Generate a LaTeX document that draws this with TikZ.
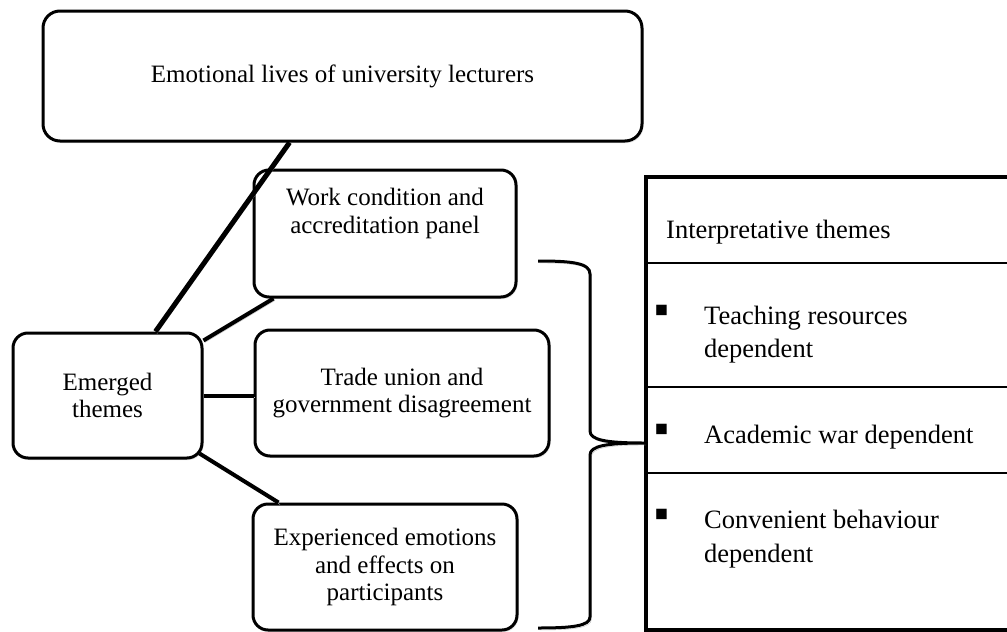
\documentclass[tikz,border=0pt]{standalone}
\usepackage{fontspec}
\setmainfont{Liberation Serif}
\usetikzlibrary{positioning,calc,shadows}
\tikzset{
    themeBox/.style={
        rectangle,
        draw,
        fill=white,
        line width=3pt,
        rounded corners=15pt,
        align=center,
        inner sep=0pt,
        font=\fontsize{25}{27.5}\selectfont,
        drop shadow={shadow xshift=1.5pt, shadow yshift=-2pt, opacity=0.2}
    },
    boxText/.style={font=\fontsize{25}{27.5}\selectfont, align=center, inner sep=0pt},
    % Table parts
    tabFrame/.style={rectangle, draw, line width=3.5pt, inner sep=0pt},
    tabText/.style={font=\fontsize{26.5}{33.5}\selectfont, align=left, inner sep=0pt, anchor=west},
    rowLine/.style={line width=2pt},
    % Lines
    shadowed/.style={preaction={draw=black!25, transform canvas={xshift=1.5pt, yshift=-2pt}}}
}

\begin{document}
\begin{tikzpicture}[
    x=1pt, y=-1pt,
    link/.style={line width=4pt, shadowed},
    brace/.style={line width=3pt, shadowed},
    bullet/.style={font=\fontsize{42}{42}\selectfont, inner sep=0pt}
]
\useasboundingbox (0,0) rectangle (1007,632);

\node[themeBox, rounded corners=17pt, minimum width=599pt, minimum height=130pt] (top) at (342.5,76) {Emotional lives of university lecturers};
\node[themeBox, minimum width=262pt, minimum height=127pt,
      label={[boxText, anchor=north, yshift=-19.5pt]north:{Work condition and\\accreditation panel}}] (work) at (385,233.5) {};
\node[themeBox, minimum width=189pt, minimum height=125pt] (emg) at (107.5,395.5) {Emerged\\themes};
\node[themeBox, minimum width=294pt, minimum height=126pt] (trade) at (402,393) {Trade union and\\government disagreement};
\node[themeBox, minimum width=264pt, minimum height=126pt] (exp) at (385,567) {Experienced emotions\\and effects on\\participants};

% interpretative table
\node[tabFrame, minimum width=372pt, minimum height=453pt, anchor=north west] (tab) at (644,175) {};
\draw[rowLine] (tab.west |- 0,263) -- (tab.east |- 0,263);
\draw[rowLine] (tab.west |- 0,387) -- (tab.east |- 0,387);
\draw[rowLine] (tab.west |- 0,473) -- (tab.east |- 0,473);

\node[tabText] (hdr) at (666,232) {Interpretative themes};
\node[tabText] (res) at (704,334.5) {Teaching resources\\dependent};
\node[tabText] (war) at (704,437) {Academic war dependent};
\node[tabText] (conv) at (704,539) {Convenient behaviour\\dependent};
\node[bullet] (b1) at (662,314) {▪};
\node[bullet] (b2) at (662,433) {▪};
\node[bullet] (b3) at (662,518) {▪};

% connectors
\draw[link, line width=5pt] ($(top.south west)!0.412!(top.south east)$) -- ($(emg.north west)!0.75!(emg.north east)$);
\draw[link] ($(work.south west)+(21,0)$) -- ($(emg.north east)+(0,9)$);
\draw[link] (emg.east) -- (emg.east -| trade.west);
\draw[link] ($(emg.south east)+(-4,-6)$) -- ($(exp.north west)+(27,0)$);

% brace towards the table
\coordinate (bt) at (538,261);
\coordinate (bb) at (538,628);
\coordinate (tip) at (tab.west |- 0,443);
\draw[brace] (bt) .. controls (572,261) and (590,263) .. (590,274)
    -- (590,431) .. controls (590,440) and (606,443) .. (tip)
    .. controls (606,443) and (590,446) .. (590,455)
    -- (590,617) .. controls (590,626) and (572,628) .. (bb);
\end{tikzpicture}
\end{document}
